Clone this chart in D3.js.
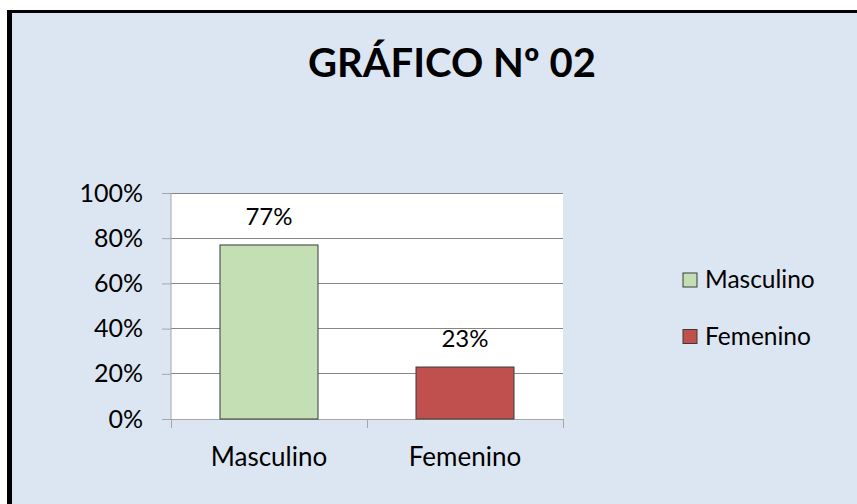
<!DOCTYPE html>
<html lang="es">
<head>
    <meta charset="UTF-8">
    <title>GRÁFICO Nº 02</title>
    <script src="https://d3js.org/d3.v7.min.js"></script>
    <style>
        body { margin: 0; background: #ffffff; }
        svg { display: block; font-family: Lato, "Open Sans", sans-serif; }
    </style>
</head>
<body>
    <div id="chart-container">
        <svg width="857" height="504"></svg>
    </div>
    <script>
        // datos
        const categories = ["Masculino", "Femenino"];
        const values = [0.77, 0.23];
        const colors = ["#c4dfb3", "#c0504d"];
        const yTicks = [0, 0.2, 0.4, 0.6, 0.8, 1.0];
        const title = "GRÁFICO Nº 02";

        const svg = d3.select("#chart-container svg");

        // fondo y borde
        svg.append("rect")
            .attr("x", 7).attr("y", 10)
            .attr("width", 857).attr("height", 504)
            .attr("fill", "#dce6f2");
        svg.append("rect").attr("x", 7).attr("y", 10).attr("width", 5).attr("height", 494).attr("fill", "#000");
        svg.append("rect").attr("x", 7).attr("y", 10).attr("width", 850).attr("height", 3).attr("fill", "#000");

        svg.append("text")
            .attr("x", 452).attr("y", 77)
            .attr("text-anchor", "middle")
            .attr("font-size", 40)
            .attr("font-weight", "bold")
            .attr("fill", "#000")
            .text(title);

        const plot = { left: 171, right: 563, top: 193, bottom: 419 };

        const x = d3.scaleBand()
            .domain(categories)
            .range([plot.left, plot.right])
            .paddingInner(0.5)
            .paddingOuter(0.25);

        const y = d3.scaleLinear()
            .domain([0, 1])
            .range([plot.bottom, plot.top]);

        svg.append("rect")
            .attr("x", plot.left).attr("y", plot.top)
            .attr("width", plot.right - plot.left).attr("height", plot.bottom - plot.top)
            .attr("fill", "#ffffff");

        // líneas de cuadrícula
        svg.append("g")
            .selectAll("line")
            .data(yTicks.slice(1))
            .join("line")
            .attr("x1", plot.left).attr("x2", plot.right)
            .attr("y1", d => y(d)).attr("y2", d => y(d))
            .attr("stroke", "#868686")
            .attr("stroke-width", 1)
            .attr("shape-rendering", "crispEdges");

        // eje Y
        const yAxis = svg.append("g")
            .attr("transform", `translate(${plot.left},0)`)
            .call(d3.axisLeft(y).tickValues(yTicks).tickFormat(d3.format(".0%")).tickSize(9).tickPadding(19));
        yAxis.select(".domain").attr("stroke", "#a6a6a6").attr("d", `M0,${plot.top}V${plot.bottom}`);
        yAxis.selectAll(".tick line").attr("stroke", "#a6a6a6");
        yAxis.selectAll(".tick text").attr("font-size", 25).attr("fill", "#000").attr("font-family", "Lato");

        // eje X
        const catEdges = [plot.left, ...categories.map((c, i) => i < categories.length - 1 ? (x(categories[i]) + x(categories[i + 1]) + x.bandwidth()) / 2 : plot.right)];
        svg.append("line")
            .attr("x1", plot.left).attr("x2", plot.right)
            .attr("y1", plot.bottom).attr("y2", plot.bottom)
            .attr("stroke", "#a6a6a6")
            .attr("shape-rendering", "crispEdges");
        svg.append("g")
            .selectAll("line")
            .data(catEdges)
            .join("line")
            .attr("x1", d => d).attr("x2", d => d)
            .attr("y1", plot.bottom).attr("y2", plot.bottom + 9)
            .attr("stroke", "#a6a6a6")
            .attr("shape-rendering", "crispEdges");
        svg.append("g")
            .selectAll("text")
            .data(categories)
            .join("text")
            .attr("x", d => x(d) + x.bandwidth() / 2)
            .attr("y", 466)
            .attr("text-anchor", "middle")
            .attr("font-size", 26)
            .attr("fill", "#000")
            .text(d => d);

        // barras
        svg.append("g")
            .selectAll("rect")
            .data(values)
            .join("rect")
            .attr("x", (d, i) => x(categories[i]))
            .attr("y", d => y(d))
            .attr("width", x.bandwidth())
            .attr("height", d => plot.bottom - y(d))
            .attr("fill", (d, i) => colors[i])
            .attr("stroke", "#3a3a3a")
            .attr("stroke-width", 1);

        // etiquetas de datos
        svg.append("g")
            .selectAll("text")
            .data(values)
            .join("text")
            .attr("x", (d, i) => x(categories[i]) + x.bandwidth() / 2)
            .attr("y", d => y(d) - 20)
            .attr("text-anchor", "middle")
            .attr("font-size", 24)
            .attr("fill", "#000")
            .text(d => d3.format(".0%")(d));

        // leyenda
        const legend = svg.append("g")
            .attr("transform", "translate(683,273)");
        const items = legend.selectAll("g")
            .data(categories)
            .join("g")
            .attr("transform", (d, i) => `translate(0,${i * 56.5})`);
        items.append("rect")
            .attr("width", 14).attr("height", 14)
            .attr("fill", (d, i) => colors[i])
            .attr("stroke", "#3a3a3a");
        items.append("text")
            .attr("x", 22).attr("y", 15)
            .attr("font-size", 24.5)
            .attr("fill", "#000")
            .text(d => d);
    </script>
</body>
</html>
